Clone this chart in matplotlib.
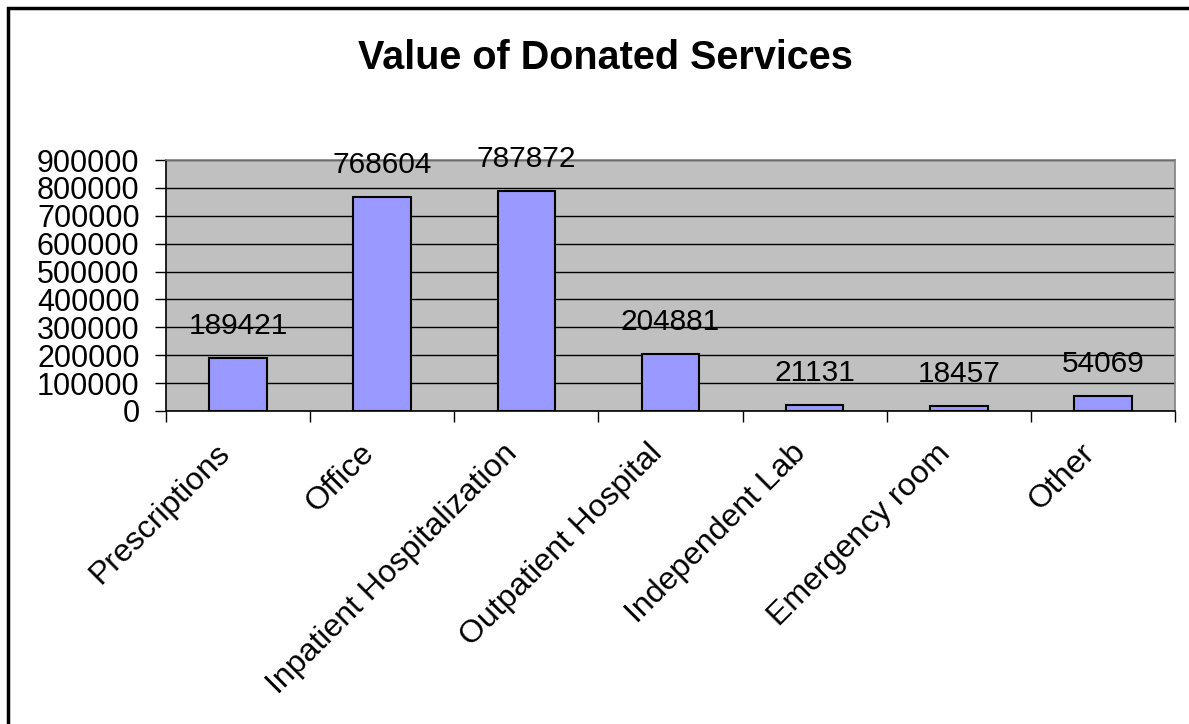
import matplotlib.pyplot as plt
from matplotlib.patches import Rectangle

# donnees
categories = ['Prescriptions', 'Office', 'Inpatient Hospitalization',
              'Outpatient Hospital', 'Independent Lab', 'Emergency room', 'Other']
valeurs = [189421, 768604, 787872, 204881, 21131, 18457, 54069]
graduations = [0, 100000, 200000, 300000, 400000, 500000, 600000, 700000, 800000, 900000]

plt.rcParams['font.family'] = ['Liberation Sans', 'DejaVu Sans']

fig = plt.figure(figsize=(11.89, 7.24), dpi=100)
W, H = 1189, 724
ax = fig.add_axes([166 / W, 1 - 411 / H, (1175 - 166) / W, (411 - 160) / H])
ax.set_facecolor('#C0C0C0')

x = list(range(len(categories)))
ax.bar(x, valeurs, width=0.4, color='#9999FF', edgecolor='black', linewidth=1.5, zorder=3)

# etiquettes de valeurs
for xi, v in zip(x, valeurs):
    ax.annotate(str(v), (xi, v), xytext=(0, 13), textcoords='offset points',
                ha='center', va='bottom', fontsize=21.5, zorder=4, annotation_clip=False)

ax.set_xlim(-0.5, len(categories) - 0.5)
ax.set_ylim(0, 900000)
ax.set_yticks(graduations)
ax.set_yticklabels([str(g) for g in graduations], fontsize=22)
ax.yaxis.grid(True, color='black', linewidth=1, zorder=1)
ax.set_axisbelow(True)

# ticks de categories aux limites
ax.set_xticks([i + 0.5 for i in range(-1, len(categories))])
ax.set_xticklabels([])
ax.tick_params(axis='x', length=8, width=1, direction='out')
ax.tick_params(axis='y', length=8, width=1, direction='out', pad=11)

# noms des categories, tournes a 45 degres
for xi, cat in zip(x, categories):
    ax.annotate(cat, (xi, 0), xytext=(-13, -38), textcoords='offset pixels',
                rotation=45, ha='right', va='center', rotation_mode='anchor',
                fontsize=23, annotation_clip=False)

ax.spines['left'].set_color('black')
ax.spines['bottom'].set_color('black')
ax.spines['top'].set_color('#808080')
ax.spines['right'].set_color('#808080')
for s in ax.spines.values():
    s.set_linewidth(1.2)

fig.text(605 / W, 1 - 58 / H, 'Value of Donated Services', ha='center', va='center',
         fontsize=28.5, fontweight='bold')

# cadre de la figure
fig.patches.append(Rectangle((8 / W, -0.05), 1.1, 1 - 8 / H + 0.05, transform=fig.transFigure,
                             fill=False, edgecolor='black', linewidth=2.5))

fig.savefig('out.png', dpi=100)
